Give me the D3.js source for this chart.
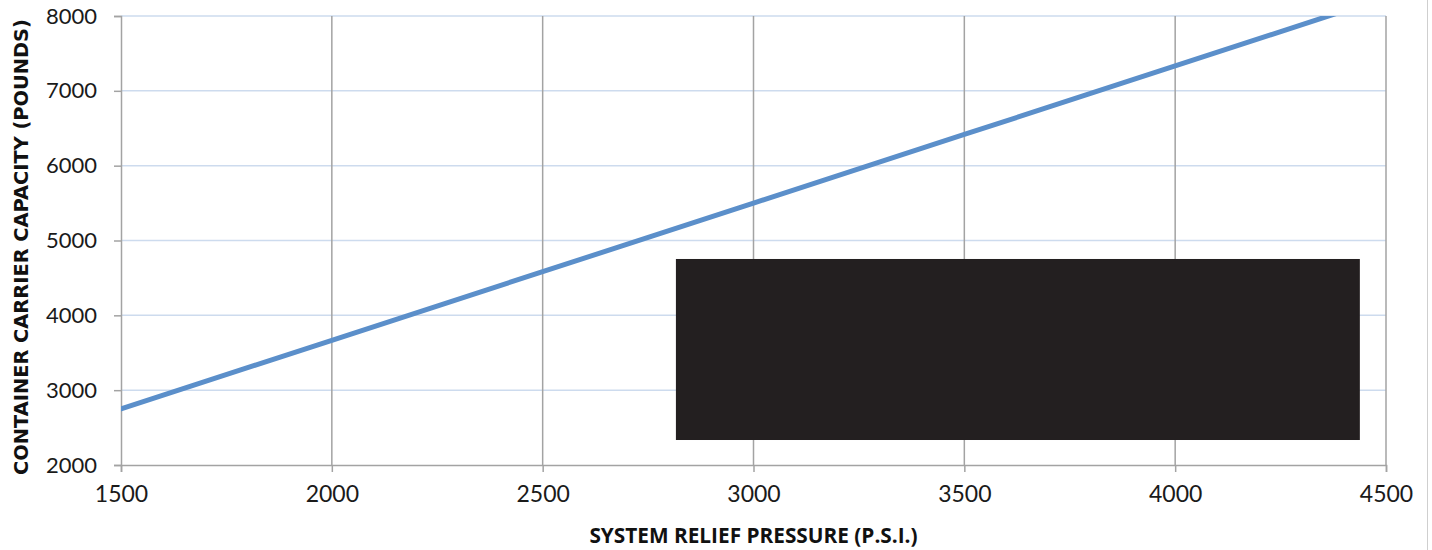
<!DOCTYPE html>
<html>
<head>
<meta charset="utf-8">
<script src="https://cdn.jsdelivr.net/npm/d3@7"></script>
<style>
  body { margin: 0; background: #fff; }
  svg { display: block; }
</style>
</head>
<body>
<div id="chart"></div>
<script>
// data
var pressure = [1500, 2000, 2500, 3000, 3500, 4000, 4500];
var capacity = [2750, 3667, 4583, 5500, 6417, 7333, 8250];
var xTicks = [1500, 2000, 2500, 3000, 3500, 4000, 4500];
var yTicks = [2000, 3000, 4000, 5000, 6000, 7000, 8000];
// redaction box, in data units [x0, x1, y0, y1]
var redactBox = [2816, 4438, 2334, 4753];

var width = 1432, height = 550;
var margin = {top: 16, right: 46, bottom: 85, left: 121};
var w = width - margin.left - margin.right,
    h = height - margin.top - margin.bottom;

var x = d3.scaleLinear().domain([1500, 4500]).range([0, w]);
var y = d3.scaleLinear().domain([2000, 8000]).range([h, 0]);

var svg = d3.select("#chart").append("svg")
    .attr("width", width)
    .attr("height", height);

// outer frame edge on the right
svg.append("line")
    .attr("x1", 1427.5).attr("x2", 1427.5)
    .attr("y1", 0).attr("y2", height)
    .style("stroke", "#cfcfcf").style("stroke-width", 1);

var g = svg.append("g")
    .attr("transform", "translate(" + margin.left + "," + margin.top + ")");

g.append("clipPath").attr("id", "plot")
  .append("rect").attr("width", w).attr("height", h);

// horizontal gridlines
g.append("g").selectAll("line")
    .data(yTicks.slice(1))
  .enter().append("line")
    .attr("x1", 0).attr("x2", w)
    .attr("y1", function(d) { return y(d); })
    .attr("y2", function(d) { return y(d); })
    .style("stroke", "#cddbee")
    .style("stroke-width", 1.5);

// vertical gridlines
g.append("g").selectAll("line")
    .data(xTicks.slice(1))
  .enter().append("line")
    .attr("x1", function(d) { return x(d); })
    .attr("x2", function(d) { return x(d); })
    .attr("y1", 0).attr("y2", h)
    .style("stroke", "#a3a3a3")
    .style("stroke-width", 1.5);

// axes
var xAxis = g.append("g")
    .attr("transform", "translate(0," + h + ")")
    .call(d3.axisBottom(x).tickValues(xTicks).tickSize(7).tickPadding(14).tickFormat(d3.format("d")));
var yAxis = g.append("g")
    .call(d3.axisLeft(y).tickValues(yTicks).tickSize(7).tickPadding(17).tickFormat(d3.format("d")));

[xAxis, yAxis].forEach(function(a) {
  a.select(".domain").style("stroke", "#a3a3a3").style("stroke-width", 1.5);
  a.selectAll(".tick line").style("stroke", "#a3a3a3").style("stroke-width", 1.5);
  a.selectAll(".tick text")
      .style("font-family", "Lato, 'Open Sans', sans-serif")
      .style("font-size", "22px")
      .style("fill", "#1a1a1a");
});
xAxis.selectAll(".tick text").style("font-size", "23px");

// the series
var line = d3.line()
    .x(function(d, i) { return x(pressure[i]); })
    .y(function(d) { return y(d); });

g.append("path")
    .datum(capacity)
    .attr("clip-path", "url(#plot)")
    .attr("d", line)
    .style("fill", "none")
    .style("stroke", "#5b8fca")
    .style("stroke-width", 5)
    .style("stroke-linecap", "round");

// redaction block
g.append("rect")
    .attr("x", x(redactBox[0]))
    .attr("y", y(redactBox[3]))
    .attr("width", x(redactBox[1]) - x(redactBox[0]))
    .attr("height", y(redactBox[2]) - y(redactBox[3]))
    .style("fill", "#231f20");

// axis titles
svg.append("text")
    .attr("x", margin.left + w / 2)
    .attr("y", 543)
    .attr("text-anchor", "middle")
    .style("font-family", "'Open Sans', sans-serif")
    .style("font-weight", "bold")
    .style("font-size", "20.8px")
    .style("fill", "#111")
    .text("SYSTEM RELIEF PRESSURE (P.S.I.)");

svg.append("text")
    .attr("transform", "translate(28," + 247 + ") rotate(-90)")
    .attr("text-anchor", "middle")
    .style("font-family", "'DejaVu Sans', sans-serif")
    .style("font-weight", "bold")
    .style("font-size", "19.4px")
    .style("fill", "#111")
    .text("CONTAINER CARRIER CAPACITY (POUNDS)");
</script>
</body>
</html>
